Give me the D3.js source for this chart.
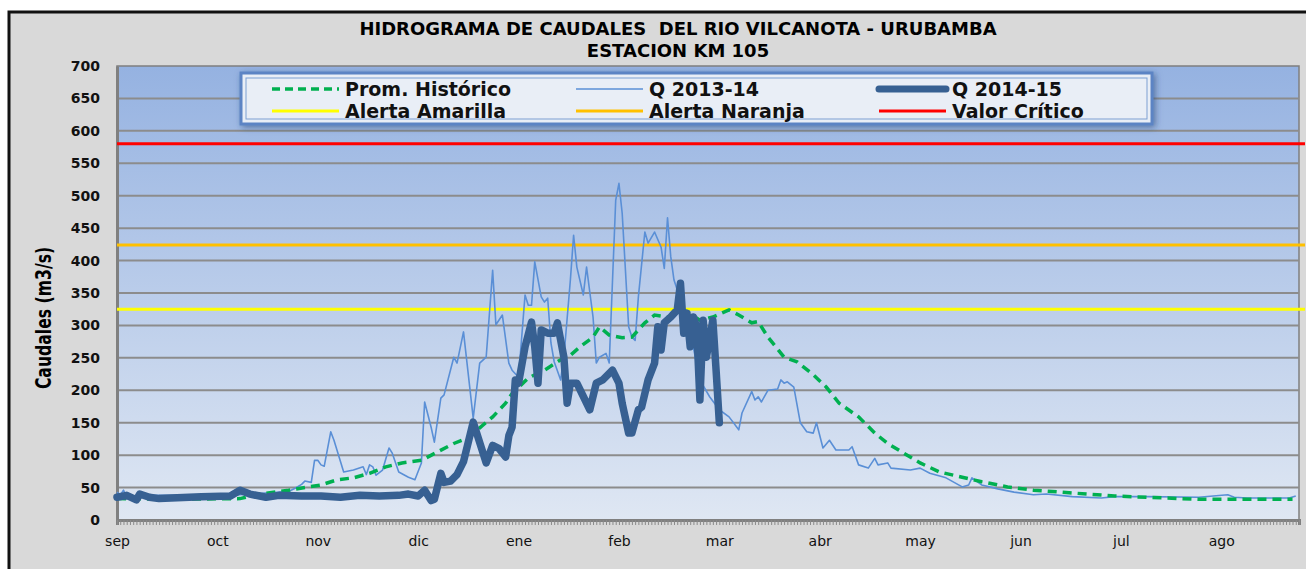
<!DOCTYPE html>
<html>
<head>
<meta charset="utf-8">
<script src="https://cdn.jsdelivr.net/npm/d3@7"></script>
<style>
  body { margin: 0; background: #fff; }
  text { font-family: "DejaVu Sans", sans-serif; }
</style>
</head>
<body>
<div id="chart"></div>
<script>
// day index counted from 1 sep, value in m3/s
var months = ["sep", "oct", "nov", "dic", "ene", "feb", "mar", "abr", "may", "jun", "jul", "ago"];
var yTicks = d3.range(0, 701, 50);

var promHistorico = [[0,33],[19,32],[38,33],[44,40],[53,46],[63,54],[68,62],[73,65],[78,72],[83,82],[88,88],[94,92],[99,105],[104,118],[108,126],[112,142],[116,159],[120,180],[122,195],[127,219],[132,231],[137,247],[140,254],[143,267],[147,282],[149,298],[152,285],[156,281],[159,282],[163,304],[166,316],[170,313],[176,321],[180,308],[184,313],[189,324],[192,316],[196,304],[198,306],[201,282],[206,251],[210,244],[215,224],[219,205],[223,180],[229,159],[234,134],[238,118],[242,106],[248,88],[254,74],[261,66],[267,59],[275,51],[283,46],[294,42],[308,37],[318,35],[334,32],[349,32],[363,32]];

var q1314 = [[0,43],[1,38],[2,46],[3,35],[7,38],[19,38],[35,38],[41,40],[47,42],[53,44],[55,49],[57,55],[58,60],[60,58],[61,92],[62,92],[63,85],[64,83],[66,136],[67,123],[70,74],[73,77],[76,82],[77,70],[78,85],[79,82],[80,69],[82,77],[84,111],[85,103],[87,74],[90,66],[92,62],[94,88],[95,182],[97,143],[98,120],[100,188],[101,193],[104,251],[105,242],[107,290],[110,157],[112,242],[114,251],[116,385],[117,301],[119,316],[121,242],[122,231],[124,220],[126,347],[127,331],[128,331],[129,398],[131,344],[132,336],[133,342],[134,273],[135,244],[137,216],[138,251],[140,370],[141,439],[142,390],[144,347],[145,390],[147,313],[148,242],[149,251],[151,257],[152,242],[154,493],[155,519],[156,473],[158,298],[159,282],[160,277],[161,344],[163,444],[164,427],[166,444],[168,421],[169,388],[170,466],[171,406],[172,370],[174,340],[177,290],[180,216],[183,190],[186,170],[189,159],[192,139],[193,165],[196,198],[197,185],[198,190],[199,182],[201,200],[204,202],[205,216],[206,211],[207,213],[209,205],[211,150],[213,136],[215,134],[216,150],[218,111],[220,123],[222,108],[226,108],[227,113],[229,85],[232,80],[234,95],[235,85],[238,88],[239,80],[245,77],[248,80],[251,72],[256,65],[261,51],[263,54],[264,65],[267,54],[272,48],[277,43],[283,39],[287,40],[295,36],[304,34],[308,36],[318,36],[334,35],[343,39],[345,35],[349,34],[362,34],[364,37]];

var q1415 = [[0,35],[3,38],[6,31],[7,40],[10,35],[13,33],[26,36],[35,37],[38,46],[41,40],[46,35],[50,38],[57,37],[63,37],[69,35],[75,38],[81,37],[87,38],[90,40],[93,37],[95,46],[97,30],[98,32],[100,72],[101,58],[103,60],[105,70],[107,90],[110,151],[114,88],[116,115],[118,110],[120,97],[121,130],[122,143],[123,216],[124,211],[126,267],[128,305],[129,267],[130,211],[131,293],[133,288],[135,288],[136,304],[138,251],[139,180],[140,211],[142,211],[146,170],[148,211],[150,216],[153,231],[155,211],[156,180],[158,134],[159,134],[161,170],[162,174],[164,216],[166,242],[167,298],[168,262],[169,304],[171,313],[173,324],[174,365],[175,288],[176,319],[177,267],[178,313],[179,298],[180,185],[181,308],[182,251],[184,308],[185,231],[186,150]];

var alertaAmarilla = 325;
var alertaNaranja = 424;
var valorCritico = 580;

var W = 1306, H = 569;
var plotL = 117, plotR = 1299, plotT = 66, plotB = 520;

var svg = d3.select("#chart").append("svg")
  .attr("width", W)
  .attr("height", H);

var defs = svg.append("defs");
var grad = defs.append("linearGradient")
  .attr("id", "plotbg")
  .attr("x1", 0).attr("y1", 0).attr("x2", 0).attr("y2", 1);
grad.append("stop").attr("offset", "0%").attr("stop-color", "#95b2e1");
grad.append("stop").attr("offset", "100%").attr("stop-color", "#dfe7f3");

var shadow = defs.append("filter").attr("id", "shadow")
  .attr("x", "-5%").attr("y", "-30%").attr("width", "110%").attr("height", "160%");
shadow.append("feDropShadow")
  .attr("dx", 2).attr("dy", 2).attr("stdDeviation", 3)
  .attr("flood-color", "#1f3c6e").attr("flood-opacity", 0.55);

// chart frame
svg.append("rect")
  .attr("x", 9).attr("y", 12)
  .attr("width", W + 20).attr("height", H + 20)
  .attr("fill", "#d9d9d9")
  .attr("stroke", "#111")
  .attr("stroke-width", 3);

svg.append("text")
  .attr("x", 678).attr("y", 35)
  .attr("text-anchor", "middle")
  .style("font-size", "18px").style("font-weight", "bold")
  .attr("xml:space", "preserve")
  .text("HIDROGRAMA DE CAUDALES  DEL RIO VILCANOTA - URUBAMBA");

svg.append("text")
  .attr("x", 678).attr("y", 57)
  .attr("text-anchor", "middle")
  .style("font-size", "18px").style("font-weight", "bold")
  .text("ESTACION KM 105");

var x = d3.scaleLinear().domain([0, 365]).range([plotL, plotR]);
var y = d3.scaleLinear().domain([0, 700]).range([plotB, plotT]);

svg.append("rect")
  .attr("x", plotL).attr("y", plotT)
  .attr("width", plotR - plotL).attr("height", plotB - plotT)
  .attr("fill", "url(#plotbg)")
  .attr("stroke", "#7f7f7f")
  .attr("stroke-width", 1.5);

// grid
svg.append("g")
  .selectAll("line")
  .data(yTicks.slice(1, -1))
  .enter().append("line")
  .attr("x1", plotL).attr("x2", plotR)
  .attr("y1", function(d){ return y(d); })
  .attr("y2", function(d){ return y(d); })
  .attr("stroke", "#8c8c8c")
  .attr("stroke-width", 2);

// y axis
var yAxis = svg.append("g")
  .attr("transform", "translate(" + plotL + ",0)")
  .call(d3.axisLeft(y).tickValues(yTicks).tickSize(0).tickPadding(17));
yAxis.select(".domain").attr("stroke", "#808080").attr("stroke-width", 3);
yAxis.selectAll("text")
  .style("font-family", "DejaVu Sans, sans-serif")
  .style("font-size", "14px")
  .style("font-weight", "bold")
  .attr("fill", "#111");

// x axis, a tick for each day
var xMinor = svg.append("g")
  .attr("transform", "translate(0," + plotB + ")")
  .call(d3.axisBottom(x).tickValues(d3.range(0, 366)).tickSize(5).tickFormat(""));
xMinor.select(".domain").attr("stroke", "#808080").attr("stroke-width", 3);
xMinor.selectAll(".tick line").attr("stroke", "#8a8a8a").attr("stroke-width", 1);

var xLab = svg.append("g")
  .attr("transform", "translate(0," + plotB + ")")
  .call(d3.axisBottom(x)
    .tickValues(months.map(function(m, i){ return i * 31; }))
    .tickSize(0).tickPadding(16)
    .tickFormat(function(d, i){ return months[i]; }));
xLab.select(".domain").remove();
xLab.selectAll("text")
  .style("font-family", "DejaVu Sans, sans-serif")
  .style("font-size", "14px")
  .attr("fill", "#111");

svg.append("text")
  .attr("transform", "translate(51," + ((plotT + plotB) / 2 + 25) + ") rotate(-90) scale(0.87,1.15)")
  .attr("text-anchor", "middle")
  .style("font-size", "18px").style("font-weight", "bold")
  .text("Caudales (m3/s)");

// threshold lines
var thresholds = [
  {v: alertaAmarilla, c: "#ffff00"},
  {v: alertaNaranja, c: "#ffc000"},
  {v: valorCritico, c: "#ff0000"}
];
svg.append("g").selectAll("line")
  .data(thresholds)
  .enter().append("line")
  .attr("x1", plotL).attr("x2", plotR + 6)
  .attr("y1", function(d){ return y(d.v); })
  .attr("y2", function(d){ return y(d.v); })
  .attr("stroke", function(d){ return d.c; })
  .attr("stroke-width", 3);

var line = d3.line()
  .x(function(d){ return x(d[0]); })
  .y(function(d){ return y(d[1]); });

svg.append("path")
  .datum(q1314)
  .attr("d", line)
  .attr("fill", "none")
  .attr("stroke", "#5a8fd6")
  .attr("stroke-width", 1.6)
  .attr("stroke-linejoin", "round");

svg.append("path")
  .datum(promHistorico)
  .attr("d", line)
  .attr("fill", "none")
  .attr("stroke", "#00b050")
  .attr("stroke-width", 3.5)
  .attr("stroke-dasharray", "9,6");

svg.append("path")
  .datum(q1415)
  .attr("d", line)
  .attr("fill", "none")
  .attr("stroke", "#376092")
  .attr("stroke-width", 7.5)
  .attr("stroke-linejoin", "round")
  .attr("stroke-linecap", "round");

// legend
var legend = svg.append("g");
legend.append("rect")
  .attr("x", 241).attr("y", 73)
  .attr("width", 911).attr("height", 51)
  .attr("fill", "#e9eef6")
  .attr("stroke", "#5b84c4")
  .attr("stroke-width", 3)
  .attr("filter", "url(#shadow)");
legend.append("rect")
  .attr("x", 246).attr("y", 78)
  .attr("width", 901).attr("height", 41)
  .attr("fill", "none")
  .attr("stroke", "#7d9fd2")
  .attr("stroke-width", 1);

var legendItems = [
  {label: "Prom. Histórico", c: "#00b050", w: 3.5, dash: "8,5", col: 0, row: 0},
  {label: "Q 2013-14", c: "#5a8fd6", w: 1.6, dash: null, col: 1, row: 0},
  {label: "Q 2014-15", c: "#376092", w: 7, dash: null, col: 2, row: 0},
  {label: "Alerta Amarilla", c: "#ffff00", w: 3, dash: null, col: 0, row: 1},
  {label: "Alerta Naranja", c: "#ffc000", w: 3, dash: null, col: 1, row: 1},
  {label: "Valor Crítico", c: "#ff0000", w: 3, dash: null, col: 2, row: 1}
];
var colX = [272, 576, 879];

var li = legend.selectAll("g.item")
  .data(legendItems)
  .enter().append("g")
  .attr("class", "item")
  .attr("transform", function(d){ return "translate(" + colX[d.col] + "," + (89 + d.row * 22) + ")"; });
li.append("line")
  .attr("x1", 0).attr("x2", 67)
  .attr("stroke", function(d){ return d.c; })
  .attr("stroke-width", function(d){ return d.w; })
  .attr("stroke-dasharray", function(d){ return d.dash; })
  .attr("stroke-linecap", function(d){ return d.w > 5 ? "round" : "butt"; });
li.append("text")
  .attr("x", 73).attr("y", 6.5)
  .style("font-size", "19px").style("font-weight", "bold")
  .attr("fill", "#111")
  .text(function(d){ return d.label; });
</script>
</body>
</html>
